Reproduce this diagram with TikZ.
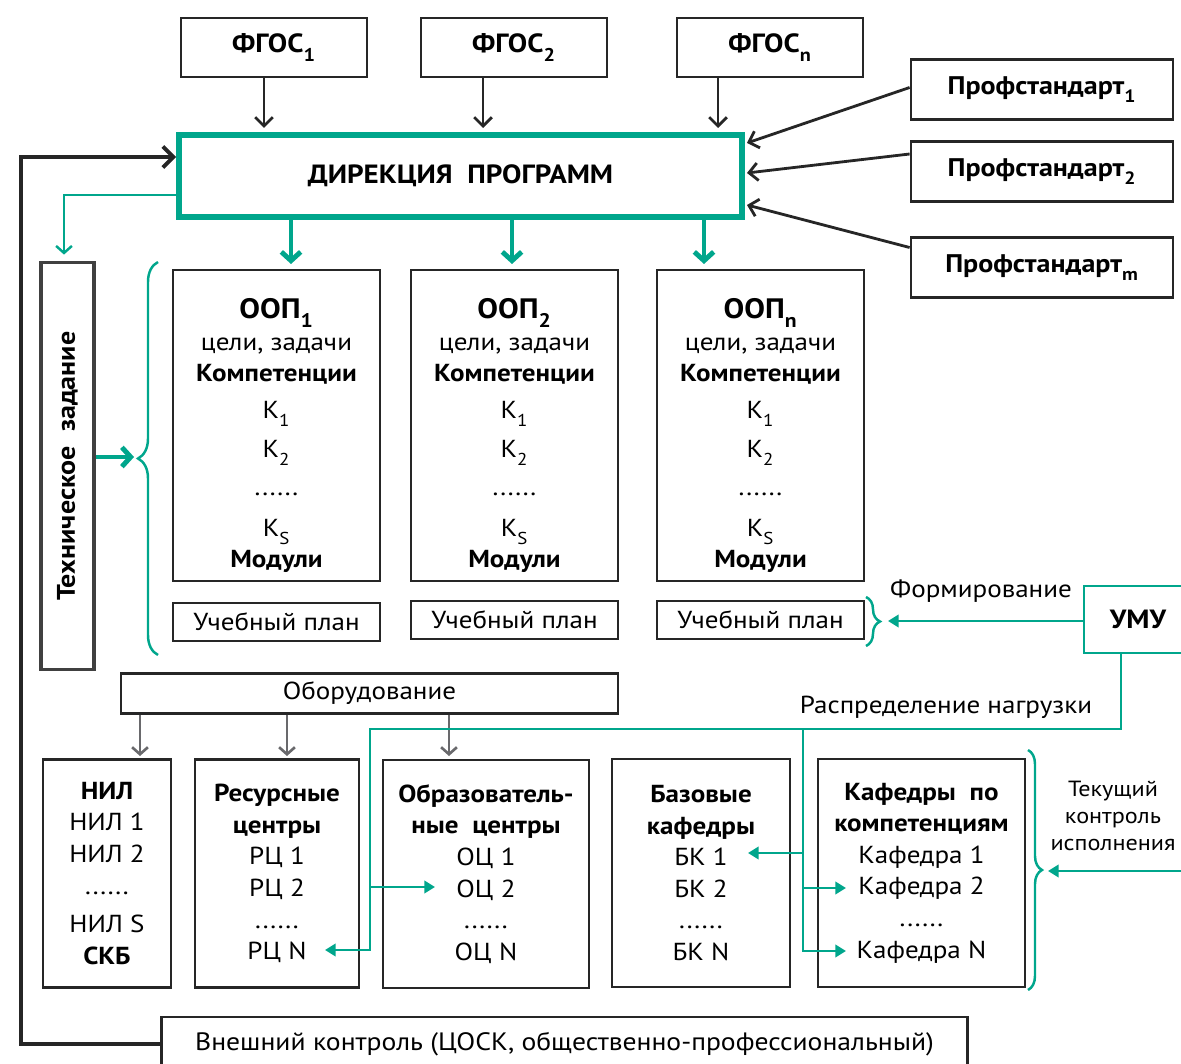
\documentclass[tikz,border=0pt]{standalone}
\usepackage{fontspec}
\setmainfont{PT Sans}[FakeStretch=1.1]
\usepackage{tikz}
\usetikzlibrary{arrows.meta, decorations.pathreplacing}

\definecolor{dirteal}{RGB}{0,166,140}
\definecolor{eqgray}{RGB}{105,105,108}
\definecolor{tzgray}{RGB}{64,64,64}

\newcommand\lowsub[1]{\raisebox{-0.35ex}{\textsubscript{#1}}}

\begin{document}
\begin{tikzpicture}[x=0.02cm, y=-0.02cm, font=\fontsize{14}{18}\selectfont,
    box/.style={draw=black!85, line width=1.6pt, inner sep=0pt, align=center},
    thinbox/.style={draw=black!85, line width=1.3pt, inner sep=0pt, align=center},
    dirbox/.style={draw=dirteal, line width=3.4pt, inner sep=0pt, minimum width=11.26cm, minimum height=1.64cm, font=\bfseries\fontsize{15}{18}\selectfont},
    umubox/.style={draw=dirteal, line width=1.4pt, inner sep=0pt, minimum width=2.16cm, minimum height=1.34cm, font=\bfseries\fontsize{15}{18}\selectfont},
    fgosbox/.style={box, minimum width=3.72cm, minimum height=1.18cm, font=\bfseries\fontsize{15}{18}\selectfont},
    profbox/.style={box, minimum width=5.24cm, minimum height=1.2cm, font=\bfseries\fontsize{14.5}{18}\selectfont},
    oopbox/.style={box, minimum width=4.14cm, minimum height=6.22cm},
    planbox/.style={box, minimum width=4.14cm, minimum height=0.76cm},
    unitbox/.style={box, minimum height=4.56cm},
    blkarrow/.style={draw=black!85, line width=1.6pt, -{Straight Barb[length=5pt, width=10pt]}},
    tealthick/.style={draw=dirteal, line width=2.8pt, -{Straight Barb[length=5pt, width=11pt]}},
    tealthin/.style={draw=dirteal, line width=1.4pt, -{Triangle[length=6pt, width=7pt]}},
    tealbrace/.style={draw=dirteal, line width=1.4pt, decorate, decoration={brace, amplitude=#1}},
    grayarrow/.style={draw=eqgray, line width=1.5pt, -{Straight Barb[length=4pt, width=9pt]}}]

    \useasboundingbox (0,0) rectangle (1181,1064);
    \clip (0,0) rectangle (1181,1064);

    % standards and programme office
    \node[fgosbox] (fgos1) at (274,47.5) {ФГОС\lowsub{1}};
    \node[fgosbox] (fgos2) at (514,47.5) {ФГОС\lowsub{2}};
    \node[fgosbox] (fgosn) at (770,47.5) {ФГОС\lowsub{n}};
    \node[dirbox] (dir) at (460.5,176) {ДИРЕКЦИЯ\ \ ПРОГРАММ};
    \node[profbox] (prof1) at (1042,89.5) {Профстандарт\lowsub{1}};
    \node[profbox] (prof2) at (1042,171.5) {Профстандарт\lowsub{2}};
    \node[profbox] (profm) at (1042,267.5) {Профстандарт\lowsub{m}};

    \coordinate (f1) at (264,128);
    \coordinate (f2) at (483,128);
    \coordinate (fn) at (718,128);
    \draw[blkarrow] (fgos1.south -| f1) -- (f1);
    \draw[blkarrow] (fgos2.south -| f2) -- (f2);
    \draw[blkarrow] (fgosn.south -| fn) -- (fn);

    \coordinate (p1) at (747,143);
    \coordinate (p2) at (747,173);
    \coordinate (pm) at (747,205);
    \draw[blkarrow] ([yshift=0.04cm]prof1.west) -- (p1);
    \draw[blkarrow] ([yshift=0.35cm]prof2.west) -- (p2);
    \draw[blkarrow] ([yshift=0.4cm]profm.west) -- (pm);

    % educational programmes
    \node[oopbox] (oop1) at (276.5,425.5) {\rule{0pt}{23pt}\textbf{\fontsize{16}{18}\selectfont ООП\lowsub{1}}\\ цели, задачи\\ \textbf{Компетенции}\\[3pt] К\lowsub{1}\\[4pt] К\lowsub{2}\\[4pt] ......\\[5pt] К\lowsub{S}\\ \textbf{Модули}};
    \node[oopbox] (oop2) at (514.5,425.5) {\rule{0pt}{23pt}\textbf{\fontsize{16}{18}\selectfont ООП\lowsub{2}}\\ цели, задачи\\ \textbf{Компетенции}\\[3pt] К\lowsub{1}\\[4pt] К\lowsub{2}\\[4pt] ......\\[5pt] К\lowsub{S}\\ \textbf{Модули}};
    \node[oopbox] (oopn) at (760.5,425.5) {\rule{0pt}{23pt}\textbf{\fontsize{16}{18}\selectfont ООП\lowsub{n}}\\ цели, задачи\\ \textbf{Компетенции}\\[3pt] К\lowsub{1}\\[4pt] К\lowsub{2}\\[4pt] ......\\[5pt] К\lowsub{S}\\ \textbf{Модули}};
    \node[planbox] (plan1) at (276.5,622) {Учебный план};
    \node[planbox] (plan2) at (514.5,620) {Учебный план};
    \node[planbox] (plan3) at (760.5,620) {Учебный план};

    \coordinate (d1) at (291,264);
    \coordinate (d2) at (512,264);
    \coordinate (dn) at (704,264);
    \draw[tealthick] (dir.south -| d1) -- (d1);
    \draw[tealthick] (dir.south -| d2) -- (d2);
    \draw[tealthick] (dir.south -| dn) -- (dn);

    % technical task
    \node[draw=tzgray, line width=2.2pt, inner sep=0pt, rotate=90, minimum width=8.14cm, minimum height=1.06cm, font=\bfseries\fontsize{14.5}{18}\selectfont] (tech) at (67.5,466) {Техническое\ \ задание};
    \coordinate (tz) at (64,195);
    \draw[draw=dirteal, line width=1.4pt, -{Straight Barb[length=4pt, width=9pt]}] (dir.west |- tz) -| ([yshift=0.12cm]tech.east -| tz);
    \draw[tealbrace=0.4cm] (158,655) -- (158,262);
    \coordinate (brL) at (134,457);
    \draw[tealthick] (tech.south |- brL) -- (brL);

    % methodical office
    \node[umubox] (umu) at (1138,619.5) {УМУ};
    \node (form) at (981,591) {Формирование};
    \draw[tealbrace=0.28cm] (866,597) -- (866,646);
    \coordinate (brP) at (888,621);
    \draw[tealthin] (umu.west |- brP) -- (brP);

    % equipment and units
    \node[thinbox, minimum width=9.94cm, minimum height=0.8cm] (equip) at (369.5,693.5) {Оборудование};
    \node[unitbox, minimum width=2.56cm] (nil) at (107,873.5) {\textbf{НИЛ}\\ НИЛ 1\\ НИЛ 2\\ ......\\[4pt] НИЛ S\\ \textbf{СКБ}};
    \node[unitbox, minimum width=3.28cm] (rc) at (277,873.5) {\textbf{Ресурсные}\\ \textbf{центры}\\ РЦ 1\\ РЦ 2\\ ......\\ РЦ N};
    \node[unitbox, minimum width=4.12cm] (oc) at (486,874) {\textbf{Образователь-}\\ \textbf{ные\ \ центры}\\ ОЦ 1\\ ОЦ 2\\ ......\\ ОЦ N};
    \node[unitbox, minimum width=3.56cm] (bk) at (701,873) {\textbf{Базовые}\\ \textbf{кафедры}\\ БК 1\\ БК 2\\ ......\\ БК N};
    \node[unitbox, minimum width=4.14cm] (kaf) at (921.5,873) {\textbf{Кафедры\ \ по}\\ \textbf{компетенциям}\\ Кафедра 1\\ Кафедра 2\\ ......\\ Кафедра N};

    \coordinate (g1) at (140,756);
    \coordinate (g2) at (287,756);
    \coordinate (g3) at (449,756);
    \draw[grayarrow] (equip.south -| g1) -- (g1);
    \draw[grayarrow] (equip.south -| g2) -- (g2);
    \draw[grayarrow] (equip.south -| g3) -- (g3);

    % load distribution
    \node (raspr) at (946,707) {Распределение нагрузки};
    \coordinate (umuc) at (1121,729);
    \coordinate (spineL) at (370,729);
    \coordinate (spineR) at (803,729);
    \coordinate (rcN) at (325,950);
    \coordinate (oc2) at (435,887);
    \coordinate (bk1) at (748,853);
    \coordinate (kaf2) at (846,888);
    \coordinate (kafN) at (846,951);
    \draw[tealthin] (umu.south -| umuc) -- (umuc) -- (spineL) |- (rcN);
    \draw[tealthin] (spineL |- oc2) -- (oc2);
    \draw[tealthin] (spineR) |- (kafN);
    \draw[tealthin] (spineR |- bk1) -- (bk1);
    \draw[tealthin] (spineR |- kaf2) -- (kaf2);

    % current control
    \draw[tealbrace=0.28cm] (1028,750) -- (1028,990);
    \node[align=center, font=\fontsize{12.5}{15.5}\selectfont] (tekk) at (1113,816) {Текущий\\ контроль\\ исполнения};
    \coordinate (brK) at (1048,871);
    \coordinate (tkin) at (1181,871);
    \draw[tealthin] (tkin) -- (brK);

    % external control
    \node[box, line width=1.4pt, minimum width=16.12cm, minimum height=1.08cm, font=\fontsize{14.3}{18}\selectfont] (ext) at (564.5,1044) {Внешний контроль (ЦОСК, общественно-профессиональный)};
    \coordinate (loopc) at (21,157);
    \draw[draw=black!85, line width=2.2pt, -{Straight Barb[length=6pt, width=12pt]}] (ext.west) -| (loopc) -- (dir.west |- loopc);
\end{tikzpicture}
\end{document}
